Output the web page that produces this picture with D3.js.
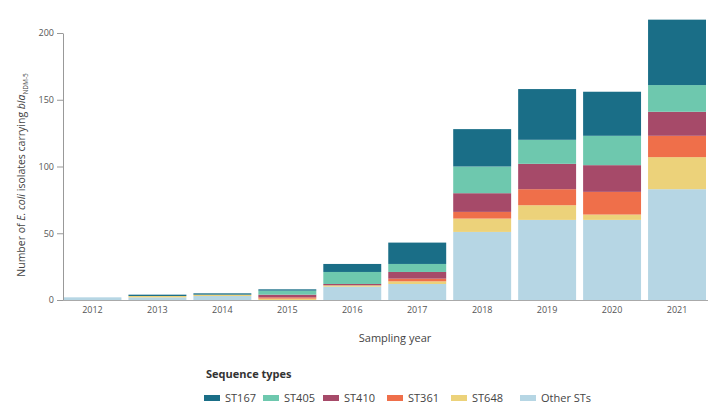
<!DOCTYPE html>
<html><head><meta charset="utf-8">
<script src="https://cdn.jsdelivr.net/npm/d3@7"></script>
<style>
body{margin:0;background:#fff;}
text{font-family:"Open Sans",sans-serif;}
</style></head>
<body>
<svg id="chart" width="725" height="419"></svg>
<script>
const years = ["2012","2013","2014","2015","2016","2017","2018","2019","2020","2021"];
const seriesNames = ["Other STs","ST648","ST361","ST410","ST405","ST167"];
const otherSTs = [2,2,3,0,10,12,51,60,60,83];
const st648 =    [0,1,1,1,1,2,10,11,4,24];
const st361 =    [0,0,0,1,0,2,5,12,17,16];
const st410 =    [0,0,0,2,1,5,14,19,20,18];
const st405 =    [0,0,0,3,9,6,20,18,22,20];
const st167 =    [0,1,1,1,6,16,28,38,33,49];
const colors =   ["#b6d6e4","#ecd27a","#ef6f4a","#a64a69","#6ec8ae","#1a6e87"];
const yTicks = [0,50,100,150,200];
const legendOrder = ["ST167","ST405","ST410","ST361","ST648","Other STs"];

const valuesBy = {"Other STs":otherSTs,"ST648":st648,"ST361":st361,"ST410":st410,"ST405":st405,"ST167":st167};
const rows = years.map((y,i)=>{const r={year:y};seriesNames.forEach(s=>r[s]=valuesBy[s][i]);return r;});
const stack = d3.stack().keys(seriesNames)(rows);
const color = d3.scaleOrdinal().domain(seriesNames).range(colors);

const svg = d3.select("#chart");
const x = d3.scaleBand().domain(years).range([63.5,706]).paddingInner(0.108).paddingOuter(0);
const y = d3.scaleLinear().domain([0,200]).range([300,33]);

// bars
svg.append("g").selectAll("g").data(stack).join("g")
  .attr("fill", d=>color(d.key))
  .selectAll("rect").data(d=>d).join("rect")
  .attr("x", d=>x(d.data.year))
  .attr("width", x.bandwidth())
  .attr("y", d=>y(d[1]))
  .attr("height", d=>Math.max(0, y(d[0])-y(d[1])));

// y axis
const yAxis = svg.append("g").attr("transform","translate(63,0)")
  .call(d3.axisLeft(y).tickValues(yTicks).tickSize(6).tickSizeOuter(0).tickPadding(3));
yAxis.select(".domain").attr("stroke","#999");
yAxis.selectAll(".tick line").attr("stroke","#999");
yAxis.selectAll(".tick text").attr("fill","#555").style("font-size","9px");

// x axis
const xAxis = svg.append("g").attr("transform","translate(0,300)")
  .call(d3.axisBottom(x).tickSize(0).tickPadding(7));
xAxis.select(".domain").attr("stroke","#aaa").attr("d","M63,0.5H708");
xAxis.selectAll(".tick text").attr("fill","#555").style("font-size","9px");

// axis titles
svg.append("text").attr("x",395).attr("y",342).attr("text-anchor","middle")
  .attr("fill","#444").style("font-size","11px").text("Sampling year");
const yl = svg.append("text").attr("transform","translate(25,175) rotate(-90)")
  .attr("text-anchor","middle").attr("fill","#444").style("font-size","10.5px");
yl.append("tspan").text("Number of ");
yl.append("tspan").attr("font-style","italic").text("E. coli");
yl.append("tspan").text(" isolates carrying ");
yl.append("tspan").attr("font-style","italic").text("bla");
yl.append("tspan").attr("dy",3).style("font-size","6.5px").text("NDM-5");

// legend
svg.append("text").attr("x",206).attr("y",378).attr("fill","#333")
  .style("font-size","11px").style("font-weight","bold").text("Sequence types");
const legX = [204,263,323,387,451,520];
const lg = svg.append("g").selectAll("g").data(legendOrder).join("g")
  .attr("transform",(d,i)=>`translate(${legX[i]},398)`);
lg.append("rect").attr("x",0).attr("y",-3).attr("width",16).attr("height",6).attr("fill",d=>color(d));
lg.append("text").attr("x",21).attr("y",4).attr("fill","#444").style("font-size","11px").text(d=>d);
</script>
</body></html>
